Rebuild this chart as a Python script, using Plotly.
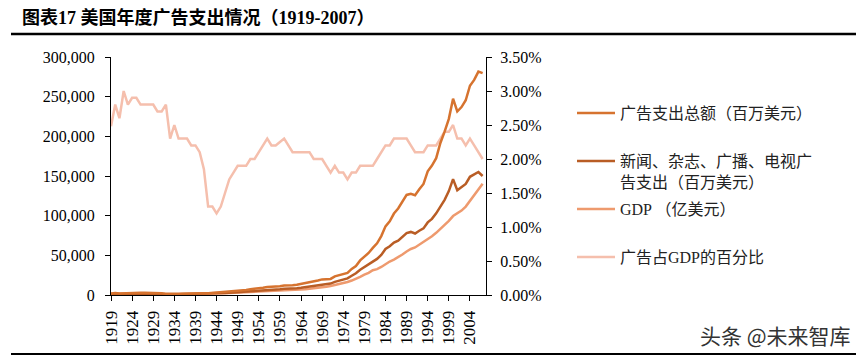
import plotly.graph_objects as go

years = list(range(1919, 2008))

# 广告支出总额（百万美元）
total_ad = [
    1944, 2472, 1914, 2214, 2400, 2526, 2622, 2730, 2688, 2733,
    2901, 2465, 2071, 1644, 1297, 1650, 1697, 1927, 2114, 1899,
    2028, 2121, 2344, 2102, 2582, 2632, 2900, 3335, 4150, 4846,
    5079, 5582, 6447, 7166, 7588, 7991, 9126, 10063, 10146, 10285,
    11143, 12107, 11983, 12298, 12968, 13936, 15101, 16542, 16650, 18198,
    19692, 19733, 20291, 23528, 24890, 27000, 27851, 32854, 36549, 43599,
    48703, 53000, 59432, 65100, 74273, 86528, 92847, 102644, 109000, 117387,
    126134, 127607, 125834, 133190, 140015, 155877, 163126, 172443, 191650, 206000,
    222000, 247500, 231300, 236900, 245500, 263800, 271100, 281600, 279600,
]

# 新闻、杂志、广播、电视广告支出（百万美元）
media_ad = [
    1250, 1600, 1240, 1440, 1560, 1640, 1700, 1770, 1750, 1780,
    1890, 1600, 1350, 1070, 840, 1070, 1100, 1250, 1370, 1230,
    1320, 1380, 1520, 1370, 1680, 1710, 1890, 2170, 2700, 3150,
    3300, 3630, 4190, 4660, 4930, 5190, 5930, 6540, 6600, 6690,
    7240, 7870, 7790, 8000, 8430, 9060, 9820, 10750, 10820, 11830,
    12800, 13300, 14400, 16500, 17900, 19700, 20900, 24300, 27400, 31800,
    35200, 38300, 42000, 45500, 50500, 58000, 61500, 66000, 68500, 73500,
    78000, 79500, 77500, 81000, 84000, 91500, 96000, 103000, 111000, 120000,
    131000, 146000, 132000, 136000, 140000, 149000, 151500, 155000, 150000,
]

# GDP（亿美元）
gdp = [
    784, 883, 736, 738, 857, 871, 904, 975, 960, 976,
    1036, 913, 767, 587, 564, 660, 738, 838, 919, 863,
    922, 1010, 1267, 1617, 1986, 2193, 2231, 2223, 2441, 2692,
    2673, 2938, 3393, 3583, 3794, 3805, 4148, 4375, 4612, 4675,
    5065, 5264, 5447, 5856, 6175, 6636, 7191, 7877, 8325, 9099,
    9846, 10386, 11273, 12383, 13828, 15000, 16383, 18252, 20305, 22947,
    25633, 27895, 31280, 32550, 35368, 39331, 42203, 44628, 47395, 51038,
    54841, 58003, 59921, 63424, 66674, 70853, 74148, 78383, 83326, 87934,
    93535, 99515, 102861, 106423, 111421, 118533, 126229, 133771, 140287,
]

# 广告占GDP的百分比（%）
ad_pct = [
    2.48, 2.80, 2.60, 3.00, 2.80, 2.90, 2.90, 2.80, 2.80, 2.80,
    2.80, 2.70, 2.70, 2.80, 2.30, 2.50, 2.30, 2.30, 2.30, 2.20,
    2.20, 2.10, 1.85, 1.30, 1.30, 1.20, 1.30, 1.50, 1.70, 1.80,
    1.90, 1.90, 1.90, 2.00, 2.00, 2.10, 2.20, 2.30, 2.20, 2.20,
    2.25, 2.30, 2.20, 2.10, 2.10, 2.10, 2.10, 2.10, 2.00, 2.00,
    2.00, 1.90, 1.80, 1.90, 1.80, 1.80, 1.70, 1.80, 1.80, 1.90,
    1.90, 1.90, 1.90, 2.00, 2.10, 2.20, 2.20, 2.30, 2.30, 2.30,
    2.30, 2.20, 2.10, 2.10, 2.10, 2.20, 2.20, 2.20, 2.30, 2.40,
    2.40, 2.50, 2.30, 2.30, 2.20, 2.30, 2.20, 2.10, 2.00,
]

names = ["广告支出总额（百万美元）", "新闻、杂志、广播、电视广<br>告支出（百万美元）",
         "GDP （亿美元）", "广告占GDP的百分比"]
colors = ["#D6732F", "#B95D25", "#EE9A6E", "#F5BFAD"]

# page has an 8px body margin: figure origin sits at page (8, 8)
OFF = 8
PAGE_W, PAGE_H = 864, 357
W, H = PAGE_W - OFF, PAGE_H - OFF
# plot area in page pixels: x 111..486, y 57..295
ML, MT = 111 - OFF, 57 - OFF
MR, MB = W - (486 - OFF), H - (295 - OFF)
PW, PH = W - ML - MR, H - MT - MB


def px_x(page_x):
    return (page_x - OFF - ML) / PW


def px_y(page_y):
    return (H - MB - (page_y - OFF)) / PH


SERIF = "Liberation Serif, 'Times New Roman', 'Noto Sans CJK SC', serif"

fig = go.Figure()
fig.add_trace(go.Scatter(x=years, y=ad_pct, name=names[3], mode="lines",
                         line=dict(color=colors[3], width=2.5), yaxis="y",
                         legend="legend4"))
fig.add_trace(go.Scatter(x=years, y=gdp, name=names[2], mode="lines",
                         line=dict(color=colors[2], width=2.5), yaxis="y2",
                         legend="legend3"))
fig.add_trace(go.Scatter(x=years, y=media_ad, name=names[1], mode="lines",
                         line=dict(color=colors[1], width=2.5), yaxis="y2",
                         legend="legend2"))
fig.add_trace(go.Scatter(x=years, y=total_ad, name=names[0], mode="lines",
                         line=dict(color=colors[0], width=2.5), yaxis="y2",
                         legend="legend"))

axis_common = dict(showline=True, linecolor="#000", linewidth=1, ticks="outside",
                   ticklen=5, tickcolor="#000", showgrid=False, zeroline=False)


def leg(first_line_center_page_y):
    top = first_line_center_page_y - OFF - 17
    return dict(x=(572 - OFF) / W, xref="container", xanchor="left",
                y=1 - top / H, yref="container", yanchor="top",
                font=dict(family=SERIF, size=16, color="#222"),
                bgcolor="rgba(0,0,0,0)", valign="top", itemwidth=38)


fig.update_layout(
    width=W, height=H, showlegend=True,
    margin=dict(l=ML, r=MR, t=MT, b=MB, autoexpand=False),
    paper_bgcolor="#fff", plot_bgcolor="#fff",
    title=dict(text="<b>图表17 美国年度广告支出情况（1919-2007）</b>",
               x=(22 - OFF) / W, xref="container", xanchor="left",
               y=1 - (18 - OFF) / H, yref="container", yanchor="middle",
               font=dict(family=SERIF, size=18, color="#000")),
    xaxis=dict(range=[1919, 2007.8], tick0=1919, dtick=5, tickangle=-90,
               tickfont=dict(family=SERIF, size=17, color="#000"),
               ticklabelstandoff=3, **axis_common),
    yaxis=dict(range=[0, 3.5], dtick=0.5, tickformat=".2f", ticksuffix="%",
               side="right", tickfont=dict(family=SERIF, size=16, color="#000"),
               ticklabelstandoff=5, **axis_common),
    yaxis2=dict(range=[0, 300000], dtick=50000, tickformat=",d", side="left",
                overlaying="y", anchor="x",
                tickfont=dict(family=SERIF, size=16, color="#000"),
                ticklabelstandoff=7, **axis_common),
    legend=leg(113),
    legend2=leg(161),
    legend3=leg(209),
    legend4=leg(257),
    shapes=[
        dict(type="line", xref="paper", yref="paper",
             x0=px_x(11), x1=px_x(858), y0=px_y(34), y1=px_y(34),
             line=dict(color="#000", width=2.5)),
        dict(type="line", xref="paper", yref="paper",
             x0=px_x(11), x1=px_x(858), y0=px_y(354), y1=px_y(354),
             line=dict(color="#000", width=2)),
    ],
    annotations=[
        dict(text="头条 @未来智库", xref="paper", yref="paper",
             x=px_x(853), xanchor="right",
             y=px_y(335), yanchor="middle", showarrow=False,
             font=dict(family="'Noto Sans CJK SC', sans-serif", size=21, color="#333")),
    ],
)

fig.write_html("out.html")
